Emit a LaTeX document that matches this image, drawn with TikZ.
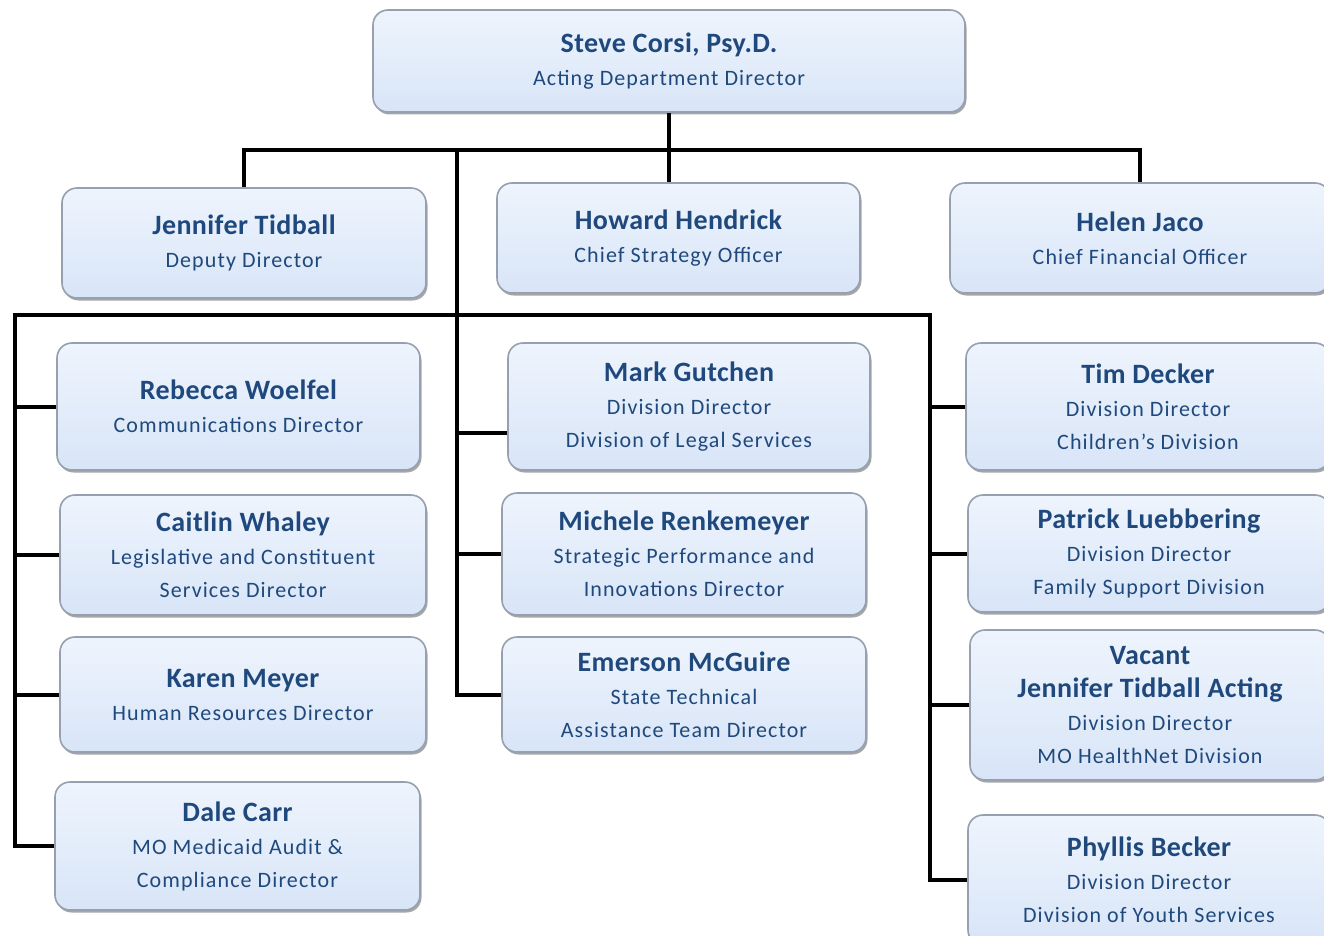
\documentclass[tikz,border=0pt]{standalone}
\usepackage{fontspec}
\setmainfont{Carlito}
\newfontfamily\tfont[LetterSpace=5]{Carlito}
\newfontfamily\nfont[LetterSpace=1.5]{Carlito}
\usetikzlibrary{shadows,calc}
\definecolor{txt}{RGB}{31,73,125}
\definecolor{boxtop}{RGB}{238,244,253}
\definecolor{boxbot}{RGB}{216,229,247}
\definecolor{rim}{RGB}{150,160,175}
\tikzset{
  obox/.style={rounded corners=15pt, draw=rim, line width=1.6pt,
    top color=boxtop, bottom color=boxbot, inner sep=0pt, align=center,
    text=txt, font=\tfont\fontsize{22}{33}\selectfont,
    drop shadow={shadow xshift=1.5pt, shadow yshift=-2.5pt, opacity=0.35, fill=black}},
  conn/.style={line width=4pt, black}
}
\newcommand{\orgbox}[6]{\node[obox, minimum width={(#4-#2)*1pt}, minimum height={(#5-#3)*1pt}] (#1) at ({(#2+#4)/2},{(#3+#5)/2}) {#6};}
\newcommand{\nm}[1]{{\nfont\fontsize{28}{34}\selectfont\bfseries #1}}
\begin{document}
\begin{tikzpicture}[x=1pt,y=-1pt]
\clip (0,0) rectangle (1324,936);
\fill[white] (0,0) rectangle (1324,936);
\orgbox{ceo}{373}{10}{965}{112}{\nm{Steve Corsi, Psy.D.}\\Acting Department Director}
\orgbox{dep}{62}{188}{426}{298}{\nm{Jennifer Tidball}\\Deputy Director}
\orgbox{cso}{497}{183}{860}{293}{\nm{Howard Hendrick}\\Chief Strategy Officer}
\orgbox{cfo}{950}{183}{1330}{293}{\nm{Helen Jaco}\\Chief Financial Officer}
\orgbox{comm}{57}{343}{420}{470}{\nm{Rebecca Woelfel}\\Communications Director}
\orgbox{leg}{60}{495}{426}{615}{\nm{Caitlin Whaley}\\Legislative and Constituent\\Services Director}
\orgbox{hr}{60}{637}{426}{752}{\nm{Karen Meyer}\\Human Resources Director}
\orgbox{dale}{55}{782}{420}{910}{\nm{Dale Carr}\\MO Medicaid Audit \&\\Compliance Director}
\orgbox{mark}{508}{343}{870}{470}{\nm{Mark Gutchen}\\Division Director\\Division of Legal Services}
\orgbox{mich}{502}{493}{866}{615}{\nm{Michele Renkemeyer}\\Strategic Performance and\\Innovations Director}
\orgbox{emer}{502}{637}{866}{752}{\nm{Emerson McGuire}\\State Technical\\Assistance Team Director}
\orgbox{tim}{966}{343}{1330}{470}{\nm{Tim Decker}\\Division Director\\Children’s Division}
\orgbox{pat}{968}{495}{1330}{612}{\nm{Patrick Luebbering}\\Division Director\\Family Support Division}
\orgbox{vac}{970}{630}{1330}{780}{\nm{Vacant}\\\nm{Jennifer Tidball Acting}\\Division Director\\MO HealthNet Division}
\orgbox{phyl}{968}{815}{1330}{945}{\nm{Phyllis Becker}\\Division Director\\Division of Youth Services}
% junction coordinates
\coordinate (barY) at (0,150);
\coordinate (spC) at (457,150);
\coordinate (lsp) at (15,315);
\coordinate (rsp) at (930,315);
% top level
\draw[conn] (dep.north) |- (barY -| cfo.north) -- (cfo.north);
\draw[conn] (ceo.south) -- (ceo.south |- cso.north);
% centre spine
\draw[conn] (spC) |- (emer.west);
\draw[conn] ($(spC |- mark.west)+(0,26)$) -- ($(mark.west)+(0,26)$);
\draw[conn] (spC |- mich.west) -- (mich.west);
% row bar and side spines
\draw[conn] (dale.west) -| (lsp) -- (rsp) |- (phyl.west);
\draw[conn] (lsp |- comm.west) -- (comm.west);
\draw[conn] (lsp |- leg.west) -- (leg.west);
\draw[conn] (lsp |- hr.west) -- (hr.west);
\draw[conn] (rsp |- tim.west) -- (tim.west);
\draw[conn] (rsp |- pat.west) -- (pat.west);
\draw[conn] (rsp |- vac.west) -- (vac.west);
\end{tikzpicture}
\end{document}
